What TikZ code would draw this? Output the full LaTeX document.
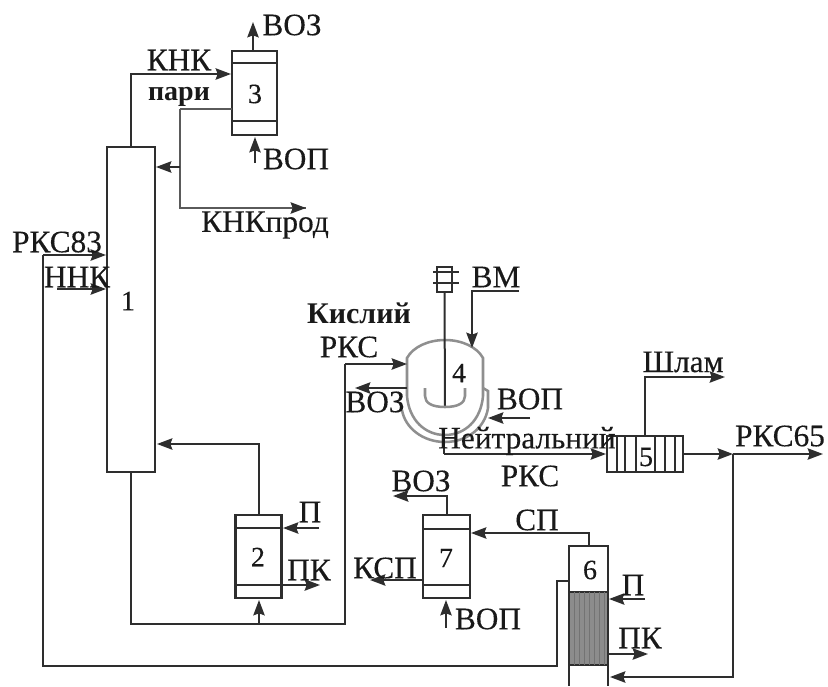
\documentclass[tikz,border=0pt]{standalone}
\usepackage{fontspec}
\setmainfont{Liberation Serif}
\usetikzlibrary{arrows.meta,calc}
\definecolor{ink}{HTML}{2E2E2E}
\definecolor{soft}{HTML}{8F8F8F}
\definecolor{mid}{HTML}{5A5A5A}
\tikzset{
  eq/.style={draw=ink,line width=1.6pt,fill=none,inner sep=0pt,outer sep=0pt,minimum width=#1},
  wire/.style={draw=ink,line width=1.5pt,line join=miter},
  flow/.style={wire,-{Stealth[length=11.5pt,width=8.5pt,inset=1.5pt]}},
  softwire/.style={draw=soft,line width=1.9pt},
  midwire/.style={draw=mid,line width=1.7pt},
  lab/.style={inner sep=0pt,text=black!90,font=\fontsize{23.5}{25}\selectfont\addfontfeature{FakeBold=0.25}},
  smalllab/.style={inner sep=0pt,text=black!90,font=\fontsize{21}{23}\selectfont\bfseries},
  kisl/.style={inner sep=0pt,text=black!90,font=\fontsize{22.5}{24}\selectfont\bfseries},
  num/.style={inner sep=0pt,text=black!90,font=\fontsize{21}{23}\selectfont\addfontfeature{FakeBold=0.25}},
}
\begin{document}
\begin{tikzpicture}[x=0.75pt,y=-0.75pt]
\useasboundingbox (0,0) rectangle (828,686);
% equipment
\node[eq=36pt,minimum height=243.75pt] (c1) at (131,309.5) {};
\node[eq=33.75pt,minimum height=63pt] (b3) at (254.5,93) {};
\node[eq=34.5pt,minimum height=62.25pt] (b2) at (258.5,556.5) {};
\node[eq=35.25pt,minimum height=62.25pt] (b7) at (446.5,556.5) {};
\node[eq=57pt,minimum height=27pt] (b5) at (645,454) {};
\node[eq=29.25pt,minimum height=34.5pt] (b6top) at (588.5,569) {};
\node[eq=29.25pt,minimum height=54.75pt,fill=black!45] (b6mid) at (588.5,628.5) {};
\node[inner sep=0pt,minimum width=11.25pt,minimum height=18.75pt,draw=ink,line width=1.1pt] (mot) at (444.5,279.5) {};
% inner lines of the boxes
\draw[wire] (232,63) -- (277,63) (232,121) -- (277,121);
\draw[wire] (235,528) -- (282,528) (235,585) -- (282,585);
\draw[wire] (423,529) -- (470,529) (423,585) -- (470,585);
\foreach \x in {617,625,636,655,665,675} \draw[wire] (\x,436) -- (\x,472);
\draw[draw=ink,line width=1.5pt] (569,665) -- (569,686) (608,665) -- (608,686);
% reactor 4
\draw[softwire] (407,396) -- (407,358) .. controls (413,347) and (428,340) .. (445,340)
  .. controls (462,340) and (477,347) .. (483,358) -- (483,396)
  .. controls (481,420) and (465,435) .. (445,435)
  .. controls (425,435) and (409,420) .. (407,396);
\draw[softwire] (483,388) -- (488,391) -- (488,408) .. controls (485,428) and (467,442) .. (445,442)
  .. controls (423,442) and (405,428) .. (402,410);
\draw[draw=ink,line width=1.1pt] (433,272) -- (459,272) (433,283) -- (459,283);
\coordinate (shaftend) at (445,407);
\draw[wire] (mot.south) -- (shaftend);
\draw[softwire] (425,388) -- (425,396) .. controls (425,403) and (432,407) .. (445,407)
  .. controls (458,407) and (465,403) .. (465,396) -- (465,388);
% shaded tube bundle of 6
\foreach \x in {574,579,584,589,594,599,604} \draw[black!55,line width=0.5pt] (\x,592) -- (\x,665);
% free ends and ports
\coordinate (k3in) at (231,74);
\coordinate (voz3s) at (253,51); \coordinate (voz3e) at (253,22);
\coordinate (vop3s) at (255,163); \coordinate (vop3e) at (255,137);
\coordinate (par) at (232,109); \coordinate (parj) at (180,109);
\coordinate (knk) at (306,208);
\coordinate (c1r) at (156,167); \coordinate (parb) at (180,167);
\coordinate (rks83) at (106,255); \coordinate (rksc) at (43,255);
\coordinate (nnks) at (57,289); \coordinate (nnke) at (106,289);
\coordinate (b6l) at (569,581); \coordinate (b6lc) at (557,581); \coordinate (rksb) at (557,666);
\coordinate (c1b) at (131,472);
\coordinate (botc) at (345,624); \coordinate (r4in) at (407,364); \coordinate (r4c) at (345,364);
\coordinate (c1in) at (157,444);
\coordinate (p2s) at (319,528); \coordinate (p2e) at (283,528);
\coordinate (pk2s) at (282,585); \coordinate (pk2e) at (320,585);
\coordinate (w2s) at (259,624); \coordinate (w2e) at (259,600);
\coordinate (b7in) at (471,533); \coordinate (voz7e) at (393,496);
\coordinate (ksps) at (423,580); \coordinate (kspe) at (370,580);
\coordinate (vop7s) at (446,628); \coordinate (vop7e) at (446,600);
\coordinate (p6s) at (645,599); \coordinate (p6e) at (609,599);
\coordinate (pk6s) at (609,654); \coordinate (pk6e) at (648,654);
\coordinate (rtn) at (610,677); \coordinate (jn) at (733,454);
\coordinate (rks65) at (823,454);
\coordinate (vms) at (519,291); \coordinate (vmc) at (472,291); \coordinate (vme) at (472,348);
\coordinate (vozrs) at (407,388); \coordinate (vozre) at (355,388);
\coordinate (voprs) at (530,418); \coordinate (vopre) at (488,418);
\coordinate (r4b) at (444,442); \coordinate (r4bc) at (444,454); \coordinate (b5in) at (606,454);
\coordinate (slam) at (725,377);
% connectors
\draw[flow] (c1.north) |- (k3in);
\draw[flow] (voz3s) -- (voz3e);
\draw[flow] (vop3s) -- (vop3e);
\draw[midwire] (par) -- (parj);
\draw[midwire] (parj) |- (knk);
\draw[flow] (knk) ++(-10,0) -- (knk);
\draw[flow] (parb) -- (c1r);
\draw[flow] (rksc) -- (rks83);
\draw[wire] (rksc) |- (rksb) -- (b6lc) -- (b6l);
\draw[flow] (nnks) -- (nnke);
\draw[wire] (c1b) |- (botc) -- (r4c);
\draw[flow] (r4c) -- (r4in);
\draw[flow] (b2.north) |- (c1in);
\draw[flow] (p2s) -- (p2e);
\draw[flow] (pk2s) -- (pk2e);
\draw[flow] (w2s) -- (w2e);
\draw[flow] (b7.north) |- (voz7e);
\draw[flow] (b6top.north) |- (b7in);
\draw[flow] (ksps) -- (kspe);
\draw[flow] (vop7s) -- (vop7e);
\draw[flow] (p6s) -- (p6e);
\draw[flow] (pk6s) -- (pk6e);
\draw[flow] (jn) |- (rtn);
\draw[flow] (b5.east) -- (jn);
\draw[flow] (jn) -- (rks65);
\draw[flow] (vms) -- (vmc) -- (vme);
\draw[flow] (vozrs) -- (vozre);
\draw[flow] (voprs) -- (vopre);
\draw[wire] (r4b) -- (r4bc);
\draw[flow] (r4bc) -- (b5in);
\draw[flow] (b5.north) |- (slam);
% numbers
\node[num] (n1) at (128,301) {1};
\node[num] (n2) at (258,557) {2};
\node[num] (n3) at (255,94) {3};
\node[num] (n4) at (459,373) {4};
\node[num] (n5) at (646,457) {5};
\node[num] (n6) at (590,570) {6};
\node[num] (n7) at (446,558) {7};
% labels
\node[lab] (t1) at (292,25) {ВОЗ};
\node[lab] (t2) at (179,60) {КНК};
\node[smalllab] (t3) at (179,97) {пари};
\node[lab] (t4) at (296,159) {ВОП};
\node[lab] (t5) at (265,225) {КНКпрод};
\node[lab] (t6) at (57,242) {РКС83};
\node[lab] (t7) at (77,277) {ННК};
\node[kisl] (t8) at (359,313) {Кислий};
\node[lab] (t9) at (349,347) {РКС};
\node[lab] (t10) at (496,277) {ВМ};
\node[lab] (t11) at (375,402) {ВОЗ};
\node[lab] (t12) at (530,399) {ВОП};
\node[lab] (t13) at (527,441) {Нейтральний};
\node[lab] (t14) at (530,476) {РКС};
\node[lab] (t15) at (683,362) {Шлам};
\node[lab] (t16) at (780,436) {РКС65};
\node[lab] (t17) at (421,481) {ВОЗ};
\node[lab] (t18) at (537,520) {СП};
\node[lab] (t19) at (310,512) {П};
\node[lab] (t20) at (309,570) {ПК};
\node[lab] (t21) at (385,568) {КСП};
\node[lab] (t22) at (488,619) {ВОП};
\node[lab] (t23) at (633,585) {П};
\node[lab] (t24) at (640,638) {ПК};
\end{tikzpicture}
\end{document}
